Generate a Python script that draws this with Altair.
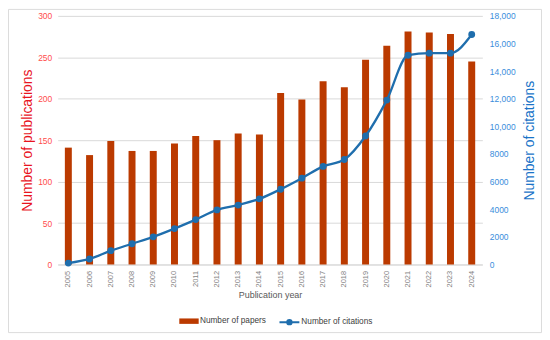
import altair as alt
import pandas as pd

years = [str(y) for y in range(2005, 2025)]
papers = [141, 132, 149, 137, 137, 146, 155, 150, 158, 157,
          207, 199, 221, 214, 247, 264, 281, 280, 278, 245]
citations = [100, 400, 1000, 1500, 2000, 2600, 3250, 3950, 4300, 4750,
             5450, 6250, 7100, 7600, 9300, 11900, 15150, 15300, 15300, 16650]

df = pd.DataFrame({"year": years, "papers": papers, "citations": citations,
                   "s1": "Number of papers", "s2": "Number of citations"})

BAR = "#BB3A00"
LINE = "#1F6EAD"
FONT = "Liberation Sans"

x = alt.X("year:O", title="Publication year",
          scale=alt.Scale(paddingInner=0, paddingOuter=0),
          axis=alt.Axis(labelAngle=-90, labelColor="#7f7f7f", labelFontSize=7.5,
                        labelFont=FONT, ticks=False, domainColor="#d9d9d9",
                        titleColor="#595959", titleFont=FONT,
                        titleFontSize=9, titleFontWeight="normal", titlePadding=4,
                        labelPadding=6, labelBaseline="middle"))

bars = alt.Chart(df).mark_bar(size=7, color=BAR).encode(
    x=x,
    y=alt.Y("papers:Q", title="Number  of publications",
            scale=alt.Scale(domain=[0, 300]),
            axis=alt.Axis(values=[0, 50, 100, 150, 200, 250, 300], labelColor="#FF4D4D",
                          labelFontSize=8.5, labelFont=FONT, ticks=False,
                          domain=False, gridColor="#d9d9d9", labelPadding=6,
                          titleColor="#E8141E", titleFont=FONT,
                          titleFontSize=14, titleFontWeight="normal",
                          titleX=-30, titleY=125, titleBaseline="middle",
                          titleAlign="center", titleAngle=-90)),
    color=alt.Color("s1:N", scale=alt.Scale(range=[BAR]), title=None,
                    legend=alt.Legend(orient="none", legendX=122, legendY=297,
                                      symbolType="M-1,-0.28H1V0.28H-1Z", symbolSize=380,
                                      symbolStrokeWidth=0, labelFontSize=8.3,
                                      labelColor="#404040", labelFont=FONT,
                                      labelOffset=1)),
)

line = alt.Chart(df).mark_line(color=LINE, strokeWidth=2.3, interpolate="monotone",
                               point=alt.OverlayMarkDef(filled=True, size=24, color=LINE)).encode(
    x=x,
    y=alt.Y("citations:Q", title="Number  of citations",
            scale=alt.Scale(domain=[0, 18000]),
            axis=alt.Axis(orient="right", values=list(range(0, 18001, 2000)),
                          labelExpr="datum.value >= 10000 ? format(datum.value, ',') : format(datum.value, 'd')",
                          labelColor="#3A8EDC", labelFontSize=8.5, labelFont=FONT,
                          ticks=False, domain=False, grid=False, labelPadding=7,
                          titleColor="#1A74C8", titleFont=FONT, titleAngle=-90,
                          titleFontSize=14, titleFontWeight="normal",
                          titleX=47, titleY=125, titleBaseline="middle",
                          titleAlign="center")),
    stroke=alt.Stroke("s2:N", scale=alt.Scale(range=[LINE]), title=None,
                      legend=alt.Legend(orient="none", legendX=222, legendY=297,
                                        symbolType="M-1,0H1M-0.22,0A0.22,0.22 0 1,1 0.22,0A0.22,0.22 0 1,1 -0.22,0Z",
                                        symbolSize=400, symbolStrokeWidth=2,
                                        symbolFillColor=LINE, labelFontSize=8.3,
                                        labelColor="#404040", labelFont=FONT,
                                        labelOffset=1)),
)

frame = alt.Chart(alt.Data(values=[{"a": 1}])).mark_rect(
    fill="transparent", stroke="#dcdcdc", strokeWidth=1).encode(
    x=alt.value(-49.5), x2=alt.value(486.5), y=alt.value(-6.5), y2=alt.value(318.5))

chart = alt.layer(frame, bars, line).resolve_scale(
    y="independent", color="independent", stroke="independent"
).properties(
    width=427, height=250, autosize="none",
    padding={"left": 50, "top": 7, "right": 60, "bottom": 70},
    background="white"
).configure_view(stroke=None)

chart.save("out.html", embed_options={"renderer": "svg", "actions": False})
